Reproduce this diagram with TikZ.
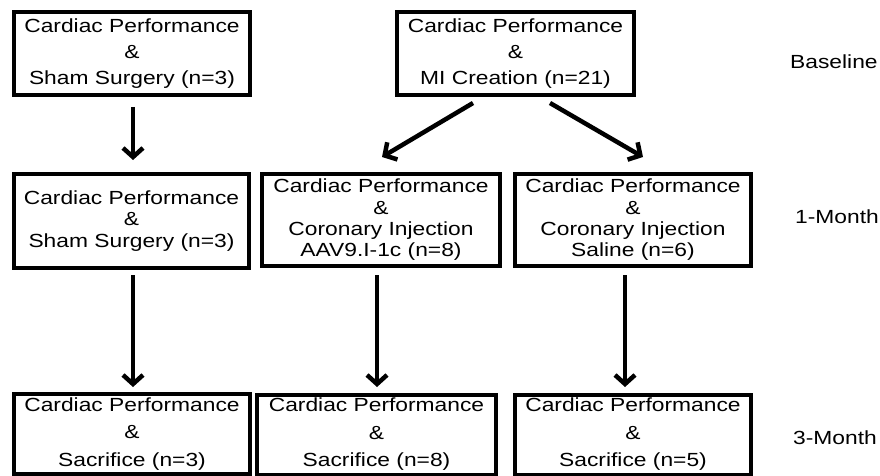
\documentclass[tikz,border=0pt]{standalone}
\usepackage{fontspec}
\setmainfont{Liberation Sans}[FakeStretch=1.2]
\usetikzlibrary{arrows.meta,calc}
\begin{document}
\begin{tikzpicture}[x=1pt,y=-1pt,
  box/.style={draw, line width=4pt, inner sep=0pt, outer sep=0pt, align=center, minimum width=236pt},
  topbox/.style={box, minimum height=83pt, font=\fontsize{19}{26}\selectfont},
  midbox/.style={box, minimum height=92pt, font=\fontsize{19}{21.3}\selectfont},
  botbox/.style={box, minimum height=80pt, font=\fontsize{19}{27.5}\selectfont},
  arr/.style={line width=4.5pt, -{Straight Barb[length=9pt,width=20pt]}},
  lab/.style={anchor=west, inner sep=0pt, font=\fontsize{19}{21}\selectfont}]
\useasboundingbox (0,0) rectangle (880,476);

\node[topbox] (t1) at (132,53.5) {Cardiac Performance\\\&\\Sham Surgery (n=3)};
\node[topbox, minimum width=237pt] (t2) at (515.5,53.5) {Cardiac Performance\\\&\\MI Creation (n=21)};

\node[midbox, minimum width=235pt, minimum height=94pt] (m1) at (131.5,221) {Cardiac Performance\\\&\\Sham Surgery (n=3)};
\node[midbox, minimum width=238pt] (m2) at (381,220) {Cardiac Performance\\\&\\Coronary Injection\\AAV9.I-1c (n=8)};
\node[midbox] (m3) at (633,220) {Cardiac Performance\\\&\\Coronary Injection\\Saline (n=6)};

\node[botbox] (b1) at (132,434) {Cardiac Performance\\\&\\Sacrifice (n=3)};
\node[botbox, minimum width=239pt] (b2) at (376.5,434.5) {Cardiac Performance\\\&\\Sacrifice (n=8)};
\node[botbox] (b3) at (633,434.5) {Cardiac Performance\\\&\\Sacrifice (n=5)};

\node[lab] (l0) at (790,62) {Baseline};
\node[lab] (l1) at (795,217) {1-Month};
\node[lab] (l2) at (793,438) {3-Month};

\coordinate (c1) at (133,0);
\coordinate (c2) at (377,0);
\coordinate (c3) at (625,0);

\draw[arr] ($(t1.south -| c1)+(0,12)$) -- ($(m1.north -| c1)+(0,-14)$);
\draw[arr] ($(t2.south)+(-42.5,8)$) -- ($(m2.north)+(1,-17)$);
\draw[arr] ($(t2.south)+(34.5,8)$) -- ($(m3.north)+(10,-17)$);

\draw[arr] ($(m1.south -| c1)+(0,7)$) -- ($(b1.north -| c1)+(0,-7)$);
\draw[arr] ($(m2.south -| c2)+(0,9)$) -- ($(b2.north -| c2)+(0,-7.5)$);
\draw[arr] ($(m3.south -| c3)+(0,9)$) -- ($(b3.north -| c3)+(0,-7.5)$);
\end{tikzpicture}
\end{document}
